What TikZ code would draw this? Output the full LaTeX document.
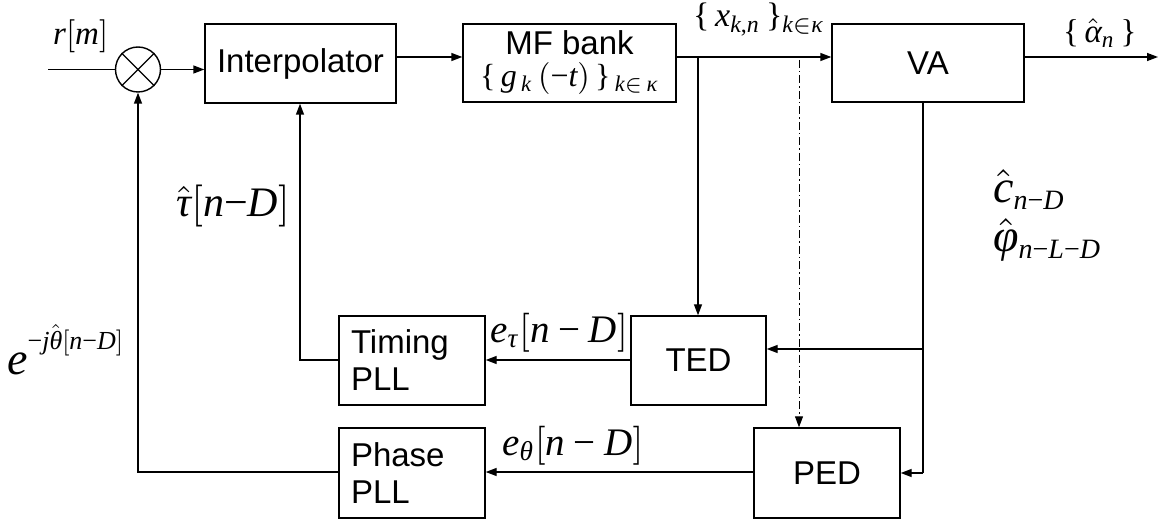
\documentclass[tikz,border=0pt]{standalone}
\usepackage{graphicx}
\usepackage{fontspec}
\setmainfont{Liberation Sans}
\newfontfamily\lserif[NFSSFamily=lserif]{Liberation Serif}
\DeclareSymbolFont{lsit}{TU}{lserif}{m}{it}
\DeclareSymbolFont{lsup}{TU}{lserif}{m}{n}
\newcount\mycc
\mycc=97 \loop\ifnum\mycc<123 \Umathcode\mycc=7 \symlsit \mycc \advance\mycc by 1 \repeat
\mycc=65 \loop\ifnum\mycc<91 \Umathcode\mycc=7 \symlsit \mycc \advance\mycc by 1 \repeat
\Umathchardef\tau=0 \symlsit "03C4
\Umathchardef\theta=0 \symlsit "03B8
\Umathchardef\alpha=0 \symlsit "03B1
\Umathchardef\varphi=0 \symlsit "03C6
\Umathchardef\kappa=0 \symlsit "03BA
\Umathcode`[=4 \symlsup `[
\Umathcode`]=5 \symlsup `]
\Umathcode`(=4 \symlsup `(
\Umathcode`)=5 \symlsup `)
\Umathcode`-=2 \symlsup "2212
\Umathcode`,=6 \symlsup `,
\Umathchardef\lbrace=4 \symlsup "007B
\Umathchardef\rbrace=5 \symlsup "007D
\usetikzlibrary{arrows.meta}
\newcommand{\ml}[2]{\scalebox{#1}{\fontsize{10}{12}\selectfont$#2$}}
\begin{document}
\begin{tikzpicture}[x=1pt,y=-1pt,
  blk/.style={draw,line width=1.4pt,inner sep=0pt,font=\fontsize{33}{37}\selectfont},
  lbl/.style={inner sep=0pt,anchor=base west},
  conn/.style={line width=1.4pt},
  arr/.style={conn,-{Triangle[length=11pt,width=8pt]}},
  ddarr/.style={line width=1pt,dash pattern=on 8pt off 3pt on 1.5pt off 3pt,-{Triangle[length=11pt,width=8pt]}}]
\useasboundingbox (0,0) rectangle (1170,521);

% blocks
\node[draw,circle,line width=1.4pt,minimum size=45pt,inner sep=0pt] (mix) at (138,69.5) {};
\draw[line width=1.2pt] (mix.north west) -- (mix.south east) (mix.north east) -- (mix.south west);
\node[blk,minimum width=191pt,minimum height=79pt] (interp) at (300.5,63.5) {Interpolator};
\node[blk,minimum width=213pt,minimum height=78pt,align=center] (mf) at (569.5,63)
  {MF bank\\[-5pt]\ml{3.2}{\{\,g_{\,k}\,(-t)\,\}_{\,k\in\,\kappa}}};
\node[blk,minimum width=192pt,minimum height=78pt] (va) at (928,63) {VA};
\node[blk,minimum width=135pt,minimum height=89pt] (ted) at (698.5,360.5) {TED};
\node[blk,minimum width=146pt,minimum height=90pt] (ped) at (827,473) {PED};
\node[blk,text width=122pt,inner xsep=12pt,minimum height=89pt,align=left] (tpll) at (412,360.5) {Timing\\PLL};
\node[blk,text width=122pt,inner xsep=12pt,minimum height=90pt,align=left] (ppll) at (412,473) {Phase\\PLL};

% helper coordinates
\coordinate (in) at (48,69.5);
\coordinate (row) at (0,57);
\coordinate (out) at (1158,57);
\coordinate (br) at (698,57);
\coordinate (dd) at (799,60);
\coordinate (vb) at (923,102);
\coordinate (tx) at (300,360);
\coordinate (px) at (138,472);
\coordinate (ty) at (0,349);

% connectors
\draw[conn] (in) -- (mix.west);
\draw[arr] (mix.east) -- (mix.east -| interp.west);
\draw[arr] (interp.east |- row) -- (mf.west |- row);
\draw[arr] (mf.east |- row) -- (va.west |- row);
\draw[arr] (va.east |- row) -- (out);
\draw[arr] (br) -- (br |- ted.north);
\draw[ddarr] (dd) -- (dd |- ped.north);
\draw[conn] (vb) -- (vb |- ped.east);
\draw[arr] (vb |- ty) -- (ted.east |- ty);
\draw[arr] (vb |- ped.east) -- (ped.east);
\draw[arr] (ted.west |- tx) -- (tpll.east |- tx);
\draw[arr] (ped.west |- px) -- (ppll.east |- px);
\draw[arr] (tpll.west |- tx) -- (tx) -- (tx |- interp.south);
\draw[arr] (ppll.west |- px) -- (px) -- (mix.south);

% labels
\node[lbl] (lr) at (53,45) {\ml{3.3}{r[m]}};
\node[lbl] (lx) at (693,27) {\ml{3.4}{\{\,x_{k,n}\,\}_{k\in\kappa}}};
\node[lbl] (la) at (1063,43) {\ml{3.3}{\{\,\hat\alpha_n\,\}}};
\node[lbl] (lc) at (993,203) {\ml{4.6}{\hat c}\raisebox{-7pt}{\ml{2.8}{n{-}D}}};
\node[lbl] (lp) at (993,252) {\ml{4.6}{\hat\varphi}\raisebox{-7pt}{\ml{2.8}{n{-}L{-}D}}};
\node[lbl,anchor=base east] (lt) at (290,217) {\ml{4.2}{\hat\tau[n{-}D]}};
\node[lbl] (let) at (490,342) {\ml{3.9}{e_\tau[n-D]}};
\node[lbl] (leth) at (502,455) {\ml{3.9}{e_\theta[n-D]}};
\node[lbl] (le) at (7,374) {\ml{4.6}{e}\raisebox{25pt}{\ml{2.6}{-j\hat\theta[n{-}D]}}};
\end{tikzpicture}
\end{document}
